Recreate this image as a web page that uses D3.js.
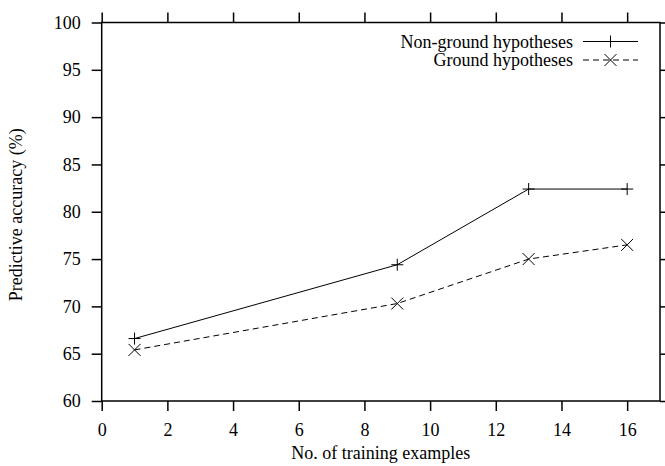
<!DOCTYPE html>
<html><head><meta charset="utf-8">
<script src="https://cdn.jsdelivr.net/npm/d3@7"></script>
<style>body{margin:0;background:#fff}svg{display:block}text{font-family:"Liberation Serif","Times New Roman",serif;fill:#000}</style>
</head><body>
<svg id="c" width="665" height="466"></svg>
<script>
const trainingExamples = [1, 9, 13, 16];
const nonGroundAccuracy = [66.6, 74.4, 82.4, 82.4];
const groundAccuracy = [65.4, 70.3, 75.0, 76.5];
const seriesNames = ["Non-ground hypotheses", "Ground hypotheses"];
const xTicks = [0, 2, 4, 6, 8, 10, 12, 14, 16];
const yTicks = [60, 65, 70, 75, 80, 85, 90, 95, 100];

const svg = d3.select("#c");
const L = 101.7, R = 660, T = 22.5, B = 401;
const x = d3.scaleLinear().domain([0, 17]).range([L, R]);
const y = d3.scaleLinear().domain([60, 100]).range([B, T]);

const fs = 18;
const gBottom = svg.append("g").attr("transform", `translate(0,${B})`)
  .call(d3.axisBottom(x).tickValues(xTicks).tickSize(10).tickPadding(12));
const gTop = svg.append("g").attr("transform", `translate(0,${T})`)
  .call(d3.axisTop(x).tickValues(xTicks).tickSize(10).tickFormat(""));
const gLeft = svg.append("g").attr("transform", `translate(${L},0)`)
  .call(d3.axisLeft(y).tickValues(yTicks).tickSize(10).tickPadding(11));
const gRight = svg.append("g").attr("transform", `translate(${R},0)`)
  .call(d3.axisRight(y).tickValues(yTicks).tickSize(10).tickFormat(""));
[gBottom, gTop, gLeft, gRight].forEach(g => {
  g.attr("font-family", null).attr("font-size", null);
  g.select(".domain").remove();
  g.selectAll(".tick line").attr("stroke", "#000").attr("stroke-width", 1.5);
  g.selectAll("text").style("font-size", fs + "px");
});
svg.append("rect").attr("x", L).attr("y", T).attr("width", R - L).attr("height", B - T)
  .attr("fill", "none").attr("stroke", "#000").attr("stroke-width", 1.5);

svg.append("text").attr("x", (L + R) / 2).attr("y", 459).attr("text-anchor", "middle")
  .style("font-size", fs + "px").text("No. of training examples");
svg.append("text").attr("transform", `translate(22,${(T + B) / 2 + 3}) rotate(-90)`)
  .attr("text-anchor", "middle").style("font-size", fs + "px").text("Predictive accuracy (%)");

const line = d3.line().x(d => x(d[0])).y(d => y(d[1]));
const s1 = trainingExamples.map((v, i) => [v, nonGroundAccuracy[i]]);
const s2 = trainingExamples.map((v, i) => [v, groundAccuracy[i]]);
svg.append("path").datum(s1).attr("d", line).attr("fill", "none").attr("stroke", "#000").attr("stroke-width", 1);
svg.append("path").datum(s2).attr("d", line).attr("fill", "none").attr("stroke", "#000").attr("stroke-width", 1).attr("stroke-dasharray", "6,4");

function plus(g, cx, cy) {
  g.append("path").attr("d", `M${cx - 6},${cy}H${cx + 6}M${cx},${cy - 6}V${cy + 6}`)
    .attr("stroke", "#000").attr("stroke-width", 1);
}
function cross(g, cx, cy) {
  g.append("path").attr("d", `M${cx - 6},${cy - 6}L${cx + 6},${cy + 6}M${cx - 6},${cy + 6}L${cx + 6},${cy - 6}`)
    .attr("stroke", "#000").attr("stroke-width", 1);
}
const mk = svg.append("g");
s1.forEach(d => plus(mk, x(d[0]), y(d[1])));
s2.forEach(d => cross(mk, x(d[0]), y(d[1])));

const lg = svg.append("g");
const rows = [41.5, 60];
seriesNames.forEach((n, i) => {
  lg.append("text").attr("x", 573).attr("y", rows[i] + 6).attr("text-anchor", "end").style("font-size", fs + "px").text(n);
  const ln = lg.append("line").attr("x1", 583).attr("x2", 638).attr("y1", rows[i]).attr("y2", rows[i])
    .attr("stroke", "#000").attr("stroke-width", 1);
  if (i === 1) ln.attr("stroke-dasharray", "6,4");
  if (i === 0) plus(lg, 610.5, rows[i]); else cross(lg, 610.5, rows[i]);
});
</script>
</body></html>
